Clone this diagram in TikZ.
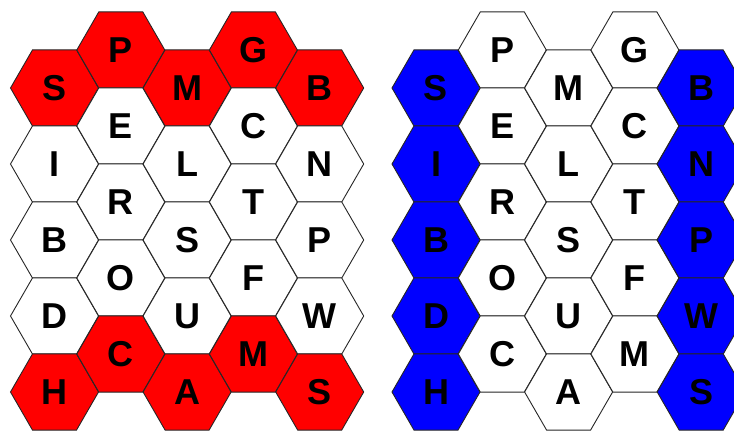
\documentclass[tikz,border=0pt]{standalone}
\usepackage{fontspec}
\setmainfont{Liberation Sans}
\usepackage{xcolor}
\usetikzlibrary{shapes.geometric}

\begin{document}
\begin{tikzpicture}[x=1pt, y=-1pt,
  hexcell/.style={draw=black!85, line width=0.9pt, regular polygon, regular polygon sides=6,
    minimum size=88pt, inner sep=0pt, outer sep=0pt, fill=white},
  redcell/.style={hexcell, fill=red},
  bluecell/.style={hexcell, fill=blue},
  every node/.style={font=\bfseries\fontsize{36}{36}\selectfont}
]
\useasboundingbox (0,0) rectangle (734,433);

% left grid: top and bottom rows red
\node[redcell]  (l00) at (54.5,88)  {S};
\node[hexcell]  (l01) at (54.5,164) {I};
\node[hexcell]  (l02) at (54.5,240) {B};
\node[hexcell]  (l03) at (54.5,316) {D};
\node[redcell]  (l04) at (54.5,392) {H};

\node[redcell]  (l10) at (120.8,50)  {P};
\node[hexcell]  (l11) at (120.8,126) {E};
\node[hexcell]  (l12) at (120.8,202) {R};
\node[hexcell]  (l13) at (120.8,278) {O};
\node[redcell]  (l14) at (120.8,354) {C};

\node[redcell]  (l20) at (187.1,88)  {M};
\node[hexcell]  (l21) at (187.1,164) {L};
\node[hexcell]  (l22) at (187.1,240) {S};
\node[hexcell]  (l23) at (187.1,316) {U};
\node[redcell]  (l24) at (187.1,392) {A};

\node[redcell]  (l30) at (253.4,50)  {G};
\node[hexcell]  (l31) at (253.4,126) {C};
\node[hexcell]  (l32) at (253.4,202) {T};
\node[hexcell]  (l33) at (253.4,278) {F};
\node[redcell]  (l34) at (253.4,354) {M};

\node[redcell]  (l40) at (319.7,88)  {B};
\node[hexcell]  (l41) at (319.7,164) {N};
\node[hexcell]  (l42) at (319.7,240) {P};
\node[hexcell]  (l43) at (319.7,316) {W};
\node[redcell]  (l44) at (319.7,392) {S};

% right grid: left and right columns blue
\node[bluecell] (r00) at (436,88)  {S};
\node[bluecell] (r01) at (436,164) {I};
\node[bluecell] (r02) at (436,240) {B};
\node[bluecell] (r03) at (436,316) {D};
\node[bluecell] (r04) at (436,392) {H};

\node[hexcell]  (r10) at (502.3,50)  {P};
\node[hexcell]  (r11) at (502.3,126) {E};
\node[hexcell]  (r12) at (502.3,202) {R};
\node[hexcell]  (r13) at (502.3,278) {O};
\node[hexcell]  (r14) at (502.3,354) {C};

\node[hexcell]  (r20) at (568.6,88)  {M};
\node[hexcell]  (r21) at (568.6,164) {L};
\node[hexcell]  (r22) at (568.6,240) {S};
\node[hexcell]  (r23) at (568.6,316) {U};
\node[hexcell]  (r24) at (568.6,392) {A};

\node[hexcell]  (r30) at (634.9,50)  {G};
\node[hexcell]  (r31) at (634.9,126) {C};
\node[hexcell]  (r32) at (634.9,202) {T};
\node[hexcell]  (r33) at (634.9,278) {F};
\node[hexcell]  (r34) at (634.9,354) {M};

\node[bluecell] (r40) at (701.2,88)  {B};
\node[bluecell] (r41) at (701.2,164) {N};
\node[bluecell] (r42) at (701.2,240) {P};
\node[bluecell] (r43) at (701.2,316) {W};
\node[bluecell] (r44) at (701.2,392) {S};

\end{tikzpicture}
\end{document}
